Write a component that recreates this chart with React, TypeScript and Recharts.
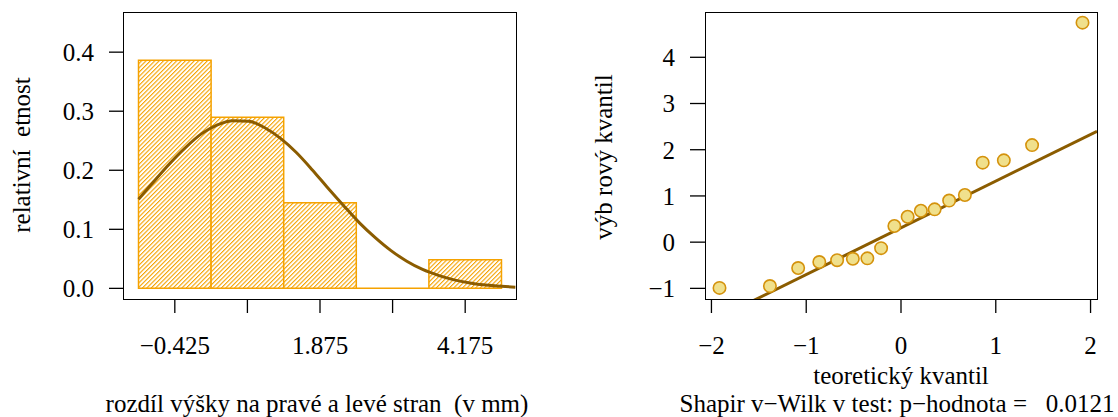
import { ComposedChart, Line, Scatter, XAxis, YAxis, ReferenceArea, ReferenceLine } from 'recharts'

// histogram (relative frequency density)
const binBreaks = [-1.0, 0.15, 1.3, 2.45, 3.6, 4.75]
const binDensity = [0.3865, 0.2899, 0.1449, 0, 0.0483]
const histTicks = [-0.425, 0.725, 1.875, 3.025, 4.175]
const histTickLabels = ['−0.425', '', '1.875', '', '4.175']
const histYTicks = [0, 0.1, 0.2, 0.3, 0.4]

// fitted normal curve
const curveX = [-1.0, -0.75, -0.5, -0.25, 0, 0.25, 0.5, 0.75, 1.0, 1.25, 1.5, 1.75, 2.0, 2.25, 2.5, 2.75, 3.0, 3.25, 3.5, 3.75, 4.0, 4.25, 4.5, 4.75, 4.97]
const curveY = [0.151, 0.182, 0.212, 0.239, 0.262, 0.277, 0.284, 0.283, 0.272, 0.254, 0.23, 0.201, 0.17, 0.14, 0.111, 0.086, 0.064, 0.046, 0.032, 0.022, 0.0144, 0.0092, 0.0056, 0.0034, 0.0021]

// Q-Q plot
const theoreticalQ = [-1.915, -1.383, -1.085, -0.862, -0.674, -0.508, -0.355, -0.21, -0.07, 0.07, 0.21, 0.355, 0.508, 0.674, 0.862, 1.085, 1.383, 1.915]
const sampleQ = [-0.99, -0.95, -0.56, -0.43, -0.39, -0.36, -0.35, -0.13, 0.35, 0.55, 0.68, 0.71, 0.9, 1.02, 1.72, 1.77, 2.1, 4.75]
const qqLineX = [-2.068, 2.068]
const qqLineY = [-1.78, 2.4]
const qqXTicks = [-2, -1, 0, 1, 2]
const qqYTicks = [-1, 0, 1, 2, 3, 4]

const ORANGE = '#f5a200'
const BROWN = '#8b5c00'
const FONT = '"Liberation Serif", "Times New Roman", serif'

const tickStyle = { fontSize: 25, fill: '#000', fontFamily: FONT }
const tickLine = { stroke: '#000', strokeWidth: 1.3 }

const minus = (v: number) => String(v).replace('-', '−')

function Title({ text, x, y, rotate }: { text: string; x: number; y: number; rotate?: boolean }) {
  return (
    <div
      style={{
        position: 'absolute',
        left: x,
        top: y,
        transform: `translate(-50%, -50%)${rotate ? ' rotate(-90deg)' : ''}`,
        fontFamily: FONT,
        fontSize: 25,
        lineHeight: 1,
        whiteSpace: 'pre',
        color: '#000',
      }}
    >
      {text}
    </div>
  )
}

function Frame({ left, top, width, height }: { left: number; top: number; width: number; height: number }) {
  return (
    <div
      style={{
        position: 'absolute',
        left,
        top,
        width,
        height,
        border: '1.3px solid #000',
        boxSizing: 'border-box',
        pointerEvents: 'none',
      }}
    />
  )
}

function Histogram() {
  const curve = curveX.map((x, i) => ({ x, y: curveY[i] }))
  return (
    <ComposedChart width={540} height={417} data={curve} margin={{ top: 12, right: 24, bottom: 58, left: 64 }}>
      <defs>
        <pattern id="hatch" patternUnits="userSpaceOnUse" width="3.1" height="3.1" patternTransform="rotate(45)">
          <rect width="3.1" height="3.1" fill="#fff" />
          <line x1="0" y1="0" x2="0" y2="3.1" stroke={ORANGE} strokeWidth="2.2" />
        </pattern>
      </defs>
      <XAxis
        type="number"
        dataKey="x"
        domain={[-1.23, 4.98]}
        ticks={histTicks}
        tickFormatter={(_v: number, i: number) => histTickLabels[i]}
        interval={0}
        axisLine={false}
        tickLine={tickLine}
        tickSize={14}
        tickMargin={23}
        tick={tickStyle}
        height={60}
        allowDataOverflow
      />
      <YAxis
        type="number"
        domain={[-0.018, 0.468]}
        ticks={histYTicks}
        tickFormatter={(v: number) => v.toFixed(1)}
        interval={0}
        axisLine={false}
        tickLine={tickLine}
        tickSize={15}
        tickMargin={15}
        tick={tickStyle}
        width={60}
        allowDataOverflow
      />
      {binDensity.map((d, i) =>
        d > 0 ? (
          <ReferenceArea
            key={i}
            x1={binBreaks[i]}
            x2={binBreaks[i + 1]}
            y1={0}
            y2={d}
            fill="url(#hatch)"
            fillOpacity={1}
            stroke={ORANGE}
            strokeWidth={1.5}
          />
        ) : (
          <ReferenceLine
            key={i}
            segment={[
              { x: binBreaks[i], y: 0 },
              { x: binBreaks[i + 1], y: 0 },
            ]}
            stroke={ORANGE}
            strokeWidth={1.5}
          />
        )
      )}
      <Line
        type="monotone"
        dataKey="y"
        stroke={BROWN}
        strokeWidth={3}
        dot={false}
        isAnimationActive={false}
      />
    </ComposedChart>
  )
}

function QQPlot() {
  const points = theoreticalQ.map((x, i) => ({ x, y: sampleQ[i] }))
  return (
    <ComposedChart width={558} height={417} margin={{ top: 12, right: 21, bottom: 58, left: 85 }}>
      <XAxis
        type="number"
        dataKey="x"
        domain={[-2.068, 2.068]}
        ticks={qqXTicks}
        tickFormatter={minus}
        interval={0}
        axisLine={false}
        tickLine={tickLine}
        tickSize={14}
        tickMargin={23}
        tick={tickStyle}
        height={60}
        allowDataOverflow
      />
      <YAxis
        type="number"
        dataKey="y"
        domain={[-1.23, 4.98]}
        ticks={qqYTicks}
        tickFormatter={minus}
        interval={0}
        axisLine={false}
        tickLine={tickLine}
        tickSize={15}
        tickMargin={15}
        tick={tickStyle}
        width={60}
        allowDataOverflow
      />
      <ReferenceLine
        segment={[
          { x: qqLineX[0], y: qqLineY[0] },
          { x: qqLineX[1], y: qqLineY[1] },
        ]}
        stroke={BROWN}
        strokeWidth={3}
        ifOverflow="hidden"
      />
      <Scatter
        data={points}
        isAnimationActive={false}
        shape={(p: any) => <circle cx={p.cx} cy={p.cy} r={6.2} fill="#f0e08c" stroke="#d4920c" strokeWidth={1.6} />}
      />
    </ComposedChart>
  )
}

export default function App() {
  return (
    <div style={{ position: 'absolute', left: 0, top: 0, width: 1118, height: 417, background: '#fff', overflow: 'hidden' }}>
      <div style={{ position: 'absolute', left: 0, top: 0 }}>
        <Histogram />
      </div>
      <div style={{ position: 'absolute', left: 560, top: 0 }}>
        <QQPlot />
      </div>
      <Frame left={123} top={11.5} width={394} height={288} />
      <Frame left={704.5} top={11.5} width={393.5} height={288} />
      <Title text="relativní  etnost" x={21} y={155} rotate />
      <Title text="rozdíl výšky na pravé a levé stran  (v mm)" x={317} y={403} />
      <Title text="výb rový kvantil" x={603} y={157} rotate />
      <Title text="teoretický kvantil" x={901} y={375} />
      <Title text="Shapir v−Wilk v test: p−hodnota =   0.0121" x={897} y={403} />
    </div>
  )
}
